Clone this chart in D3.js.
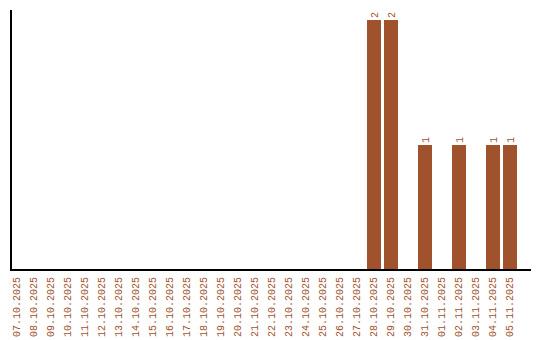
<!DOCTYPE html>
<html>
<head>
<meta charset="utf-8">
<script src="https://cdn.jsdelivr.net/npm/d3@7"></script>
<style>
  body { margin: 0; background: #fff; }
  text { font-family: "Liberation Mono", monospace; font-size: 10px; fill: #a0522d; }
</style>
</head>
<body>
<div id="chart"></div>
<script>
var dates = ["07.10.2025", "08.10.2025", "09.10.2025", "10.10.2025", "11.10.2025",
             "12.10.2025", "13.10.2025", "14.10.2025", "15.10.2025", "16.10.2025",
             "17.10.2025", "18.10.2025", "19.10.2025", "20.10.2025", "21.10.2025",
             "22.10.2025", "23.10.2025", "24.10.2025", "25.10.2025", "26.10.2025",
             "27.10.2025", "28.10.2025", "29.10.2025", "30.10.2025", "31.10.2025",
             "01.11.2025", "02.11.2025", "03.11.2025", "04.11.2025", "05.11.2025"];
var counts = [0, 0, 0, 0, 0, 0, 0, 0, 0, 0,
              0, 0, 0, 0, 0, 0, 0, 0, 0, 0,
              0, 2, 2, 0, 1, 0, 1, 0, 1, 1];

var width = 540,
    height = 340,
    barColor = "#a0522d";

var data = dates.map(function(d, i) { return { label: d, value: counts[i] }; });

var x = d3.scaleBand()
    .domain(dates)
    .range([10, 517])
    .paddingInner(3 / 17)
    .paddingOuter(0)
    .align(0);

var y = d3.scaleLinear()
    .domain([0, d3.max(counts)])
    .range([270, 20]);

var svg = d3.select("#chart").append("svg")
    .attr("width", width)
    .attr("height", height);

// bars
svg.selectAll("rect.bar")
    .data(data.filter(function(d) { return d.value > 0; }))
  .enter().append("rect")
    .attr("class", "bar")
    .attr("x", function(d) { return x(d.label); })
    .attr("y", function(d) { return y(d.value); })
    .attr("width", x.bandwidth())
    .attr("height", function(d) { return y(0) - y(d.value); })
    .attr("fill", barColor);

// value labels, rotated above bars
svg.selectAll("text.value")
    .data(data.filter(function(d) { return d.value > 0; }))
  .enter().append("text")
    .attr("class", "value")
    .attr("transform", function(d) {
      return "translate(" + (x(d.label) + x.bandwidth() / 2) + "," + (y(d.value) - 2) + ") rotate(-90)";
    })
    .attr("dy", "0.35em")
    .attr("text-anchor", "start")
    .text(function(d) { return d.value; });

// axes lines
svg.append("line")
    .attr("x1", 11).attr("x2", 11)
    .attr("y1", 10).attr("y2", 270)
    .attr("stroke", "#000").attr("stroke-width", 2);

svg.append("line")
    .attr("x1", 10).attr("x2", 531)
    .attr("y1", 270).attr("y2", 270)
    .attr("stroke", "#000").attr("stroke-width", 2);

// date labels
svg.selectAll("text.date")
    .data(dates)
  .enter().append("text")
    .attr("class", "date")
    .attr("transform", function(d) {
      return "translate(" + (x(d) + x.bandwidth() / 2 - 1) + ",277) rotate(-90)";
    })
    .attr("dy", "0.35em")
    .attr("text-anchor", "end")
    .text(function(d) { return d; });
</script>
</body>
</html>
